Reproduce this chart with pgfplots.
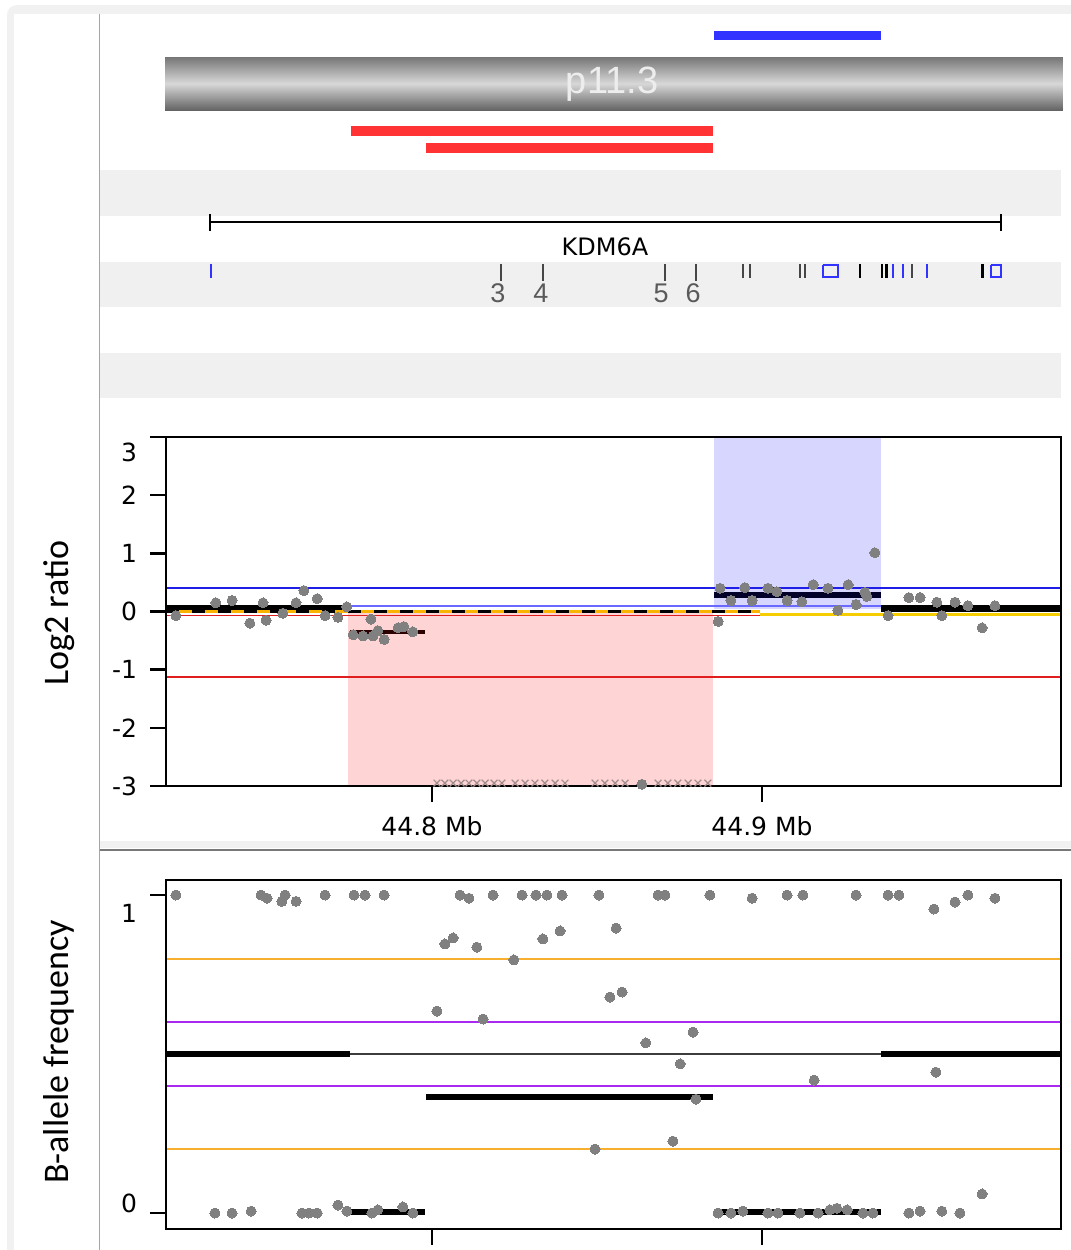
\documentclass[border=0pt]{standalone}
\usepackage{fontspec}
\setmainfont{DejaVu Sans}
\newfontfamily\carlito{Carlito}
\newfontfamily\libsans{Liberation Sans}
\usepackage{pgfplots}
\pgfplotsset{compat=1.18}
\definecolor{dotgray}{RGB}{128,128,128}
\definecolor{bandgray}{RGB}{240,240,240}
\definecolor{framegray}{RGB}{241,241,241}
\definecolor{sepgray}{RGB}{120,120,120}
\definecolor{vlinegray}{RGB}{165,165,165}
\definecolor{cnvblue}{RGB}{51,51,255}
\definecolor{cnvred}{RGB}{255,51,51}
\definecolor{thrblue}{RGB}{30,30,230}
\definecolor{lightblue}{RGB}{105,105,255}
\definecolor{thrred}{RGB}{225,30,30}
\definecolor{yline}{RGB}{245,205,0}
\definecolor{dashor}{RGB}{250,180,0}
\definecolor{bafor}{RGB}{247,176,45}
\definecolor{bafpu}{RGB}{170,40,240}
\definecolor{chrdark}{RGB}{118,118,118}
\definecolor{chrdarkb}{RGB}{100,100,100}
\definecolor{chrlight}{RGB}{216,216,216}
\definecolor{exgray}{RGB}{70,70,70}
\definecolor{numgray}{RGB}{90,90,90}
\definecolor{xgray}{RGB}{160,140,140}
\definecolor{midline}{RGB}{60,60,60}
\pgfplotsset{
  panel/.style={
    scale only axis, width=447.5pt,
    xmin=44.71939, xmax=44.99061,
    axis on top,
    axis line style={line width=1.2pt, black},
    tick style={line width=1.2pt, black},
    major tick length=8pt,
    tick align=outside,
    xtick pos=left, ytick pos=left,
    ticklabel style={font=\fontsize{12.5}{14}\selectfont, black},
    yticklabel style={xshift=-3pt},
    xticklabel style={yshift=-3.5pt},
    xtick={44.8,44.9},
  },
  dots/.style={only marks, mark=*, mark size=2.5pt, color=dotgray, mark options={draw=dotgray, fill=dotgray, line width=0pt}},
}
\begin{document}
\begin{tikzpicture}[x=1pt,y=1pt]
\useasboundingbox (0,0) rectangle (535.5,-625);
\fill[white] (0,0) rectangle (535.5,-625);
% outer frame
\fill[framegray, rounded corners=5pt] (3.5,-2.5) rectangle (560,-660);
\fill[white] (7,-7) rectangle (560,-660);
% separators
\draw[vlinegray, line width=0.6pt] (49.75,-7) -- (49.75,-625);
\fill[framegray] (50,-420.5) rectangle (535.5,-424);
\draw[sepgray, line width=1pt] (50,-425) -- (535.5,-425);
% axis titles
\node[rotate=90, font=\carlito\fontsize{18}{20}\selectfont] at (29.5,-306.5) {Log2 ratio};
\node[rotate=90, font=\carlito\fontsize{18}{20}\selectfont] at (29.5,-526) {B-allele frequency};

% ---------------- track panel ----------------
\begin{axis}[scale only axis, width=447.5pt, height=205pt,
  at={(83pt,0pt)}, anchor=north west,
  xmin=44.71939, xmax=44.99061, ymin=0, ymax=410, y dir=reverse,
  hide axis, clip=false]
\addplot[draw=none, fill=bandgray] coordinates {(44.69939,170) (44.99061,170) (44.99061,216) (44.69939,216)};
\addplot[draw=none, fill=bandgray] coordinates {(44.69939,262) (44.99061,262) (44.99061,307) (44.69939,307)};
\addplot[draw=none, fill=bandgray] coordinates {(44.69939,353) (44.99061,353) (44.99061,398) (44.69939,398)};
% gain call
\addplot[draw=none, fill=cnvblue] coordinates {(44.88545,31) (44.93606,31) (44.93606,40) (44.88545,40)};
% cytoband
\path[top color=chrdark, bottom color=chrdarkb, middle color=chrlight] (axis cs:44.71909,57) rectangle (axis cs:44.99121,110);
\node[text=white!93!black, font=\libsans\fontsize{19}{21}\selectfont] at (axis cs:44.85455,84) {p11.3};
% loss calls
\addplot[draw=none, fill=cnvred] coordinates {(44.77545,126) (44.88515,126) (44.88515,136) (44.77545,136)};
\addplot[draw=none, fill=cnvred] coordinates {(44.79818,143) (44.88515,143) (44.88515,153) (44.79818,153)};
% gene
\addplot[black, line width=1pt] coordinates {(44.73273,222) (44.97242,222)};
\addplot[black, line width=1pt] coordinates {(44.73273,214) (44.73273,231)};
\addplot[black, line width=1pt] coordinates {(44.97242,214) (44.97242,231)};
\node[font=\fontsize{12}{14}\selectfont] at (axis cs:44.8524,247) {KDM6A};
% exons
\addplot[cnvblue, line width=1.4pt] coordinates {(44.7330,264) (44.7330,278)};
\addplot[exgray, line width=0.7pt] coordinates {(44.8209,264) (44.8209,281)};
\addplot[exgray, line width=0.7pt] coordinates {(44.8336,264) (44.8336,281)};
\addplot[exgray, line width=0.7pt] coordinates {(44.8706,264) (44.8706,281)};
\addplot[exgray, line width=0.7pt] coordinates {(44.8800,264) (44.8800,281)};
\addplot[exgray, line width=0.7pt] coordinates {(44.8942,264) (44.8942,278)};
\addplot[exgray, line width=0.7pt] coordinates {(44.8964,264) (44.8964,278)};
\addplot[exgray, line width=0.7pt] coordinates {(44.9115,264) (44.9115,278)};
\addplot[exgray, line width=0.7pt] coordinates {(44.9130,264) (44.9130,278)};
\addplot[cnvblue, line width=1pt] coordinates {(44.9185,265) (44.9230,265) (44.9230,277) (44.9185,277) (44.9185,265)};
\addplot[black, line width=1.3pt] coordinates {(44.9297,264) (44.9297,278)};
\addplot[black, line width=1.3pt] coordinates {(44.9364,264) (44.9364,278)};
\addplot[black, line width=1.3pt] coordinates {(44.9378,264) (44.9378,278)};
\addplot[cnvblue, line width=1.3pt] coordinates {(44.9397,264) (44.9397,278)};
\addplot[cnvblue, line width=1.3pt] coordinates {(44.9427,264) (44.9427,278)};
\addplot[exgray, line width=0.7pt] coordinates {(44.9455,264) (44.9455,278)};
\addplot[cnvblue, line width=1.3pt] coordinates {(44.9500,264) (44.9500,278)};
\addplot[black, line width=1.5pt] coordinates {(44.9667,264) (44.9667,278)};
\addplot[cnvblue, line width=1pt] coordinates {(44.9694,265) (44.9724,265) (44.9724,277) (44.9694,277) (44.9694,265)};
\node[text=numgray, font=\libsans\fontsize{13.5}{15}\selectfont] at (axis cs:44.8200,293) {3};
\node[text=numgray, font=\libsans\fontsize{13.5}{15}\selectfont] at (axis cs:44.8330,293) {4};
\node[text=numgray, font=\libsans\fontsize{13.5}{15}\selectfont] at (axis cs:44.8694,293) {5};
\node[text=numgray, font=\libsans\fontsize{13.5}{15}\selectfont] at (axis cs:44.8791,293) {6};
\end{axis}

% ---------------- log2 ratio panel ----------------
\begin{axis}[panel, height=174.5pt, at={(83pt,-218.5pt)}, anchor=north west,
  ymin=-3, ymax=3,
  ytick={-3,-2,-1,0,1,2}, yticklabels={-3,-2,-1,0,1,2},
  extra y ticks={3}, extra y tick labels={3},
  extra y tick style={yticklabel style={yshift=-7.5pt}},
  xticklabels={44.8 Mb,44.9 Mb}]
\addplot[only marks, mark=x, mark size=2.4pt, color=xgray, line width=0.6pt] coordinates {
(44.8015,-2.95) (44.8039,-2.95) (44.8064,-2.95) (44.8088,-2.95) (44.8112,-2.95) (44.8136,-2.95) (44.8161,-2.95) (44.8188,-2.95) (44.8212,-2.95)
(44.8252,-2.95) (44.8282,-2.95) (44.8312,-2.95) (44.8342,-2.95) (44.8373,-2.95) (44.8403,-2.95)
(44.8494,-2.95) (44.8524,-2.95) (44.8555,-2.95) (44.8585,-2.95)
(44.8685,-2.95) (44.8715,-2.95) (44.8745,-2.95) (44.8776,-2.95) (44.8806,-2.95) (44.8836,-2.95)};
\addplot[dots] table {
x y
44.7224 -0.07
44.7345 0.15
44.7394 0.19
44.7448 -0.20
44.7488 0.15
44.7497 -0.15
44.7548 -0.03
44.7588 0.15
44.7612 0.36
44.7652 0.22
44.7676 -0.07
44.7715 -0.10
44.7742 0.08
44.7761 -0.40
44.7791 -0.42
44.7815 -0.13
44.7821 -0.42
44.7836 -0.33
44.7855 -0.48
44.7897 -0.28
44.7915 -0.26
44.7942 -0.35
44.8636 -2.97
44.8867 -0.17
44.8873 0.40
44.8906 0.19
44.8948 0.41
44.8970 0.19
44.9018 0.40
44.9045 0.34
44.9076 0.19
44.9121 0.17
44.9155 0.46
44.9200 0.40
44.9230 0.02
44.9261 0.46
44.9285 0.12
44.9312 0.33
44.9318 0.26
44.9342 1.01
44.9382 -0.07
44.9445 0.24
44.9479 0.24
44.9530 0.16
44.9545 -0.07
44.9585 0.16
44.9624 0.10
44.9667 -0.28
44.9706 0.10
};
% segment means
\addplot[black, line width=3.2pt] coordinates {(44.71939,0.05) (44.7752,0.05)};
\addplot[black, line width=2.3pt] coordinates {(44.7752,-0.35) (44.7979,-0.35)};
\addplot[black, line width=2.8pt] coordinates {(44.8855,0.28) (44.9361,0.28)};
\addplot[black, line width=3.5pt] coordinates {(44.9361,0.05) (44.99061,0.05)};
% called regions
\addplot[draw=none, fill=red, fill opacity=0.17] coordinates {(44.7745,-0.02) (44.8852,-0.02) (44.8852,-3) (44.7745,-3)};
\addplot[draw=none, fill=blue, fill opacity=0.16] coordinates {(44.8855,0.04) (44.9361,0.04) (44.9361,3) (44.8855,3)};
% thresholds
\addplot[thrblue, line width=1pt] coordinates {(44.71939,0.41) (44.99061,0.41)};
\addplot[lightblue, line width=1pt] coordinates {(44.7752,0.09) (44.9361,0.09)};
\addplot[thrred, line width=1pt] coordinates {(44.71939,-1.12) (44.99061,-1.12)};
\addplot[thrred, line width=0.8pt] coordinates {(44.71939,-0.07) (44.8994,-0.07)};
\addplot[yline, line width=1.3pt] coordinates {(44.8994,-0.05) (44.99061,-0.05)};
\addplot[dashor, line width=1.6pt] coordinates {(44.71939,0) (44.8994,0)};
\addplot[black, line width=1.6pt, dash pattern=on 6.5pt off 6.5pt] coordinates {(44.71939,0) (44.8994,0)};
\end{axis}

% ---------------- B-allele frequency panel ----------------
\begin{axis}[panel, height=174.5pt, at={(83pt,-440pt)}, anchor=north west,
  ymin=-0.0503, ymax=1.0472,
  ytick={0}, yticklabels={0}, yticklabel style={yshift=5pt},
  extra y ticks={1}, extra y tick labels={1},
  extra y tick style={yticklabel style={yshift=-14pt}},
  xticklabels={}]
\addplot[bafor, line width=1pt] coordinates {(44.71939,0.8) (44.99061,0.8)};
\addplot[bafor, line width=1pt] coordinates {(44.71939,0.2) (44.99061,0.2)};
\addplot[bafpu, line width=1.1pt] coordinates {(44.71939,0.6) (44.99061,0.6)};
\addplot[bafpu, line width=1.1pt] coordinates {(44.71939,0.4) (44.99061,0.4)};
\addplot[midline, line width=1pt] coordinates {(44.71939,0.5) (44.99061,0.5)};
\addplot[dots] table {
x y
44.7224 1.0
44.7482 1.0
44.7500 0.99
44.7545 0.98
44.7555 1.0
44.7588 0.98
44.7676 1.0
44.7764 1.0
44.7797 1.0
44.7855 1.0
44.8085 1.0
44.8112 0.99
44.8185 1.0
44.8273 1.0
44.8315 1.0
44.8348 1.0
44.8394 1.0
44.8506 1.0
44.8685 1.0
44.8706 1.0
44.8842 1.0
44.8970 0.99
44.9076 1.0
44.9124 1.0
44.9285 1.0
44.9382 1.0
44.9415 1.0
44.9521 0.956
44.9585 0.978
44.9624 1.0
44.9706 0.99
44.8039 0.846
44.8064 0.865
44.8136 0.836
44.8248 0.796
44.8336 0.862
44.8388 0.887
44.8558 0.896
44.8015 0.635
44.8155 0.610
44.8539 0.679
44.8576 0.695
44.8791 0.569
44.8648 0.535
44.8752 0.469
44.9158 0.418
44.9527 0.443
44.8800 0.358
44.8494 0.201
44.8730 0.226
44.9667 0.060
44.7342 0.0
44.7394 0.0
44.7452 0.006
44.7606 0.0
44.7627 0.0
44.7652 0.0
44.7715 0.025
44.7742 0.006
44.7818 0.0
44.7836 0.01
44.7912 0.019
44.7942 0.0
44.8867 0.0
44.8906 0.0
44.8942 0.006
44.9018 0.0
44.9048 0.0
44.9115 0.0
44.9170 0.0
44.9206 0.01
44.9227 0.015
44.9258 0.01
44.9306 0.0
44.9336 0.0
44.9445 0.0
44.9479 0.006
44.9545 0.006
44.9600 0.0
};
\addplot[black, line width=2.8pt] coordinates {(44.71939,0.5) (44.7752,0.5)};
\addplot[black, line width=2.8pt] coordinates {(44.9361,0.5) (44.99061,0.5)};
\addplot[black, line width=2.6pt] coordinates {(44.7982,0.365) (44.8852,0.365)};
\addplot[black, line width=2.6pt] coordinates {(44.7752,0.003) (44.7979,0.003)};
\addplot[black, line width=2.6pt] coordinates {(44.8855,0.003) (44.9361,0.003)};
\end{axis}
\end{tikzpicture}
\end{document}
